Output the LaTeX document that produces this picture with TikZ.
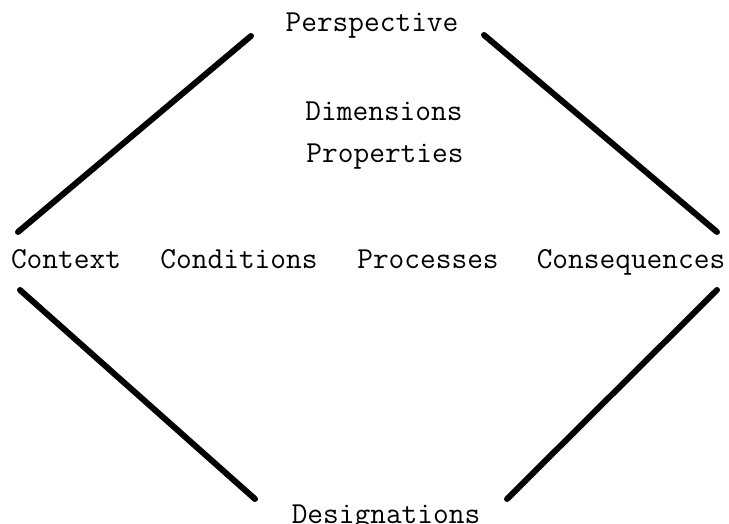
\documentclass[tikz,border=0pt]{standalone}
\usepackage{tikz}
\usetikzlibrary{positioning}

\begin{document}
\begin{tikzpicture}[
  x=1pt, y=1pt,
  label/.style={inner sep=0pt, anchor=base, font=\ttfamily\fontsize{30.5}{34}\selectfont},
  edge/.style={line width=6pt, line cap=round, color=black}
]
  \useasboundingbox (0,0) rectangle (729,523);

  \node[label] (persp) at (372,491) {Perspective};
  \node[label] (dims) at (384,402) {Dimensions};
  \node[label] (props) at (385,360) {Properties};
  \node[label] (context) at (66,254) {Context};
  \node[label] (cond) at (239,254) {Conditions};
  \node[label] (proc) at (428,254) {Processes};
  \node[label] (conseq) at (631,254) {Consequences};
  \node[label] (design) at (386,0) {Designations};

  \coordinate (tl1) at (18,291);
  \coordinate (tl2) at (251,487);
  \coordinate (tr1) at (484,488);
  \coordinate (tr2) at (717,291);
  \coordinate (bl1) at (20,233);
  \coordinate (bl2) at (255,24);
  \coordinate (br1) at (507,24);
  \coordinate (br2) at (717,233);

  \draw[edge] (tl1) -- (tl2);
  \draw[edge] (tr1) -- (tr2);
  \draw[edge] (bl1) -- (bl2);
  \draw[edge] (br1) -- (br2);
\end{tikzpicture}
\end{document}
